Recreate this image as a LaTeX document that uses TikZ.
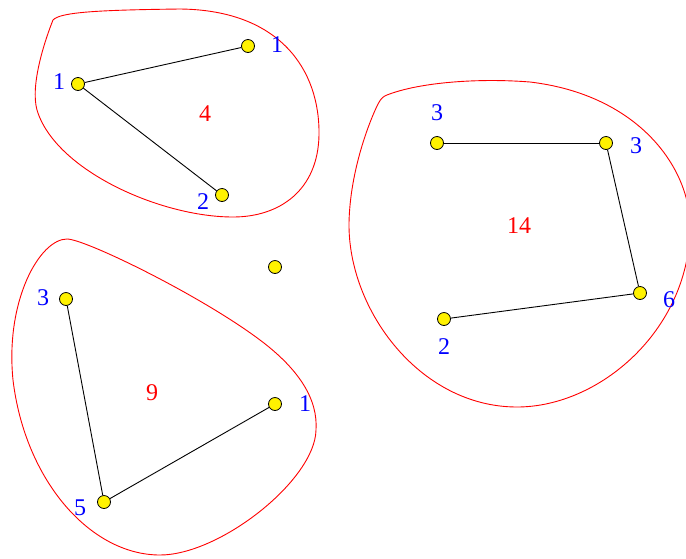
\documentclass[tikz,border=0pt]{standalone}
\usepackage{fontspec}
\setmainfont{Liberation Serif}
\begin{document}
\begin{tikzpicture}[x=1pt,y=-1pt,
  vert/.style={circle,draw=black,fill=yellow,inner sep=0pt,minimum size=13pt,line width=0.8pt},
  lab/.style={text=blue,font=\fontsize{24}{24}\selectfont,inner sep=0pt},
  glab/.style={text=red,font=\fontsize{24}{24}\selectfont,inner sep=0pt},
  blob/.style={draw=red,line width=0.9pt},
  edge/.style={draw=black,line width=0.9pt}]
\useasboundingbox (0,0) rectangle (686,558);
% blobs
\draw[blob] (53,20) .. controls (60,12) and (100,10) .. (180,9)
  .. controls (280,10) and (320,70) .. (319,135)
  .. controls (318,190) and (280,217) .. (233,217)
  .. controls (160,217) and (55,170) .. (37,110)
  .. controls (30,85) and (45,40) .. (53,20) -- cycle;
\draw[blob] (67,239) .. controls (85,239) and (200,295) .. (260,340)
  .. controls (300,370) and (318,400) .. (316,430)
  .. controls (315,480) and (220,555) .. (160,555)
  .. controls (90,555) and (25,480) .. (13,380)
  .. controls (5,300) and (40,239) .. (67,239) -- cycle;
\draw[blob] (387,95) .. controls (420,82) and (480,78) .. (530,82)
  .. controls (640,95) and (692,170) .. (690,230)
  .. controls (688,330) and (600,407) .. (517,407)
  .. controls (420,407) and (348,310) .. (349,223)
  .. controls (350,170) and (370,120) .. (378,104)
  .. controls (381,98) and (384,96) .. (387,95) -- cycle;
% group A
\node[vert] (a1) at (78,84) {};
\node[vert] (a2) at (248,46) {};
\node[vert] (a3) at (222,195) {};
\node[lab] (la1) at (59,82) {1};
\node[lab] (la2) at (277,45) {1};
\node[lab] (la3) at (203,202) {2};
\node[glab] (ga) at (205,114) {4};
\draw[edge] (a1) -- (a2);
\draw[edge] (a1) -- (a3);
% isolated
\node[vert] (iso) at (275,267) {};
% group B
\node[vert] (b3) at (66,299) {};
\node[vert] (b1) at (275,404) {};
\node[vert] (b5) at (104,502) {};
\node[lab] (lb3) at (43,298) {3};
\node[lab] (lb1) at (305,404) {1};
\node[lab] (lb5) at (80,508) {5};
\node[glab] (gb) at (152,393) {9};
\draw[edge] (b3) -- (b5);
\draw[edge] (b5) -- (b1);
% group C
\node[vert] (c1) at (437,143) {};
\node[vert] (c2) at (606,143) {};
\node[vert] (c3) at (640,293) {};
\node[vert] (c4) at (444,319) {};
\node[lab] (lc1) at (437,113) {3};
\node[lab] (lc2) at (636,146) {3};
\node[lab] (lc3) at (669,300) {6};
\node[lab] (lc4) at (444,347) {2};
\node[glab] (gc) at (519,226) {14};
\draw[edge] (c1) -- (c2);
\draw[edge] (c2) -- (c3);
\draw[edge] (c3) -- (c4);
\end{tikzpicture}
\end{document}
